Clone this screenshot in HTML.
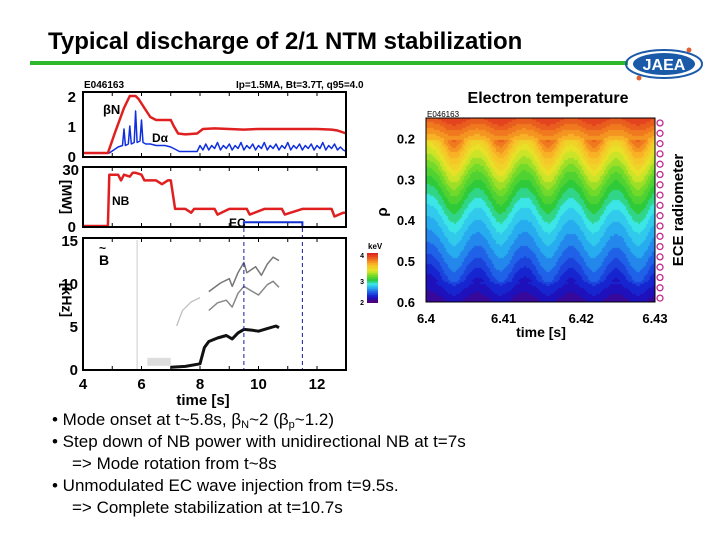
<!DOCTYPE html>
<html><head><meta charset="utf-8"><style>
body{margin:0;background:#fff;width:720px;height:540px;overflow:hidden;font-family:"Liberation Sans",Arial,sans-serif;position:relative}
.t{position:absolute;white-space:nowrap}
sub{font-size:11px;line-height:0;vertical-align:-3px}
</style></head><body>
<div class="t" style="left:48px;top:28px;font-size:24px;font-weight:bold;color:#000">Typical discharge of 2/1 NTM stabilization</div>
<div style="position:absolute;left:30px;top:61px;width:598px;height:4px;background:#2db82d"></div>
<svg style="position:absolute;left:622px;top:44px" width="84" height="40">
<ellipse cx="42" cy="20" rx="38" ry="14" fill="none" stroke="#1a5aa8" stroke-width="2"/>
<ellipse cx="42" cy="20" rx="31" ry="11" fill="#1a5aa8"/>
<text x="42" y="26" text-anchor="middle" font-family="Liberation Sans" font-weight="bold" font-size="16" fill="#fff">JAEA</text>
<circle cx="67" cy="6" r="2.5" fill="#e06030"/><circle cx="17" cy="34" r="2.5" fill="#e06030"/>
</svg>
<svg id="left" width="720" height="540" style="position:absolute;left:0;top:0" font-family="Liberation Sans" font-weight="bold"></svg>
<canvas id="te" width="229" height="184" style="position:absolute;left:426px;top:118px"></canvas>
<canvas id="cb" width="11" height="50" style="position:absolute;left:367px;top:253px"></canvas>
<svg id="right" width="720" height="540" style="position:absolute;left:0;top:0" font-family="Liberation Sans" font-weight="bold"></svg>
<div style="position:absolute;left:52px;top:409px;font-size:17px;line-height:22px;color:#000">
<div>• Mode onset at t~5.8s, β<sub>N</sub>~2 (β<sub>p</sub>~1.2)</div>
<div>• Step down of NB power with unidirectional NB at t=7s</div>
<div style="padding-left:20px">=&gt; Mode rotation from t~8s</div>
<div>• Unmodulated EC wave injection from t=9.5s.</div>
<div style="padding-left:20px">=&gt; Complete stabilization at t=10.7s</div>
</div>
<script>
// ---- data ----
const betaT=[4,4.85,5.1,5.4,5.6,5.8,5.9,6.1,6.3,6.5,7.0,7.1,7.25,7.5,7.9,8.1,8.5,9,9.5,10,11,12,12.5,12.7,13];
const betaV=[0.1,0.1,0.8,1.6,2.0,2.0,1.9,1.6,1.3,1.2,1.2,1.0,0.75,0.72,0.75,0.9,0.92,0.9,0.88,0.9,0.9,0.9,0.88,0.85,0.75];
const daT=[4,4.9,5.2,5.35,5.4,5.45,5.55,5.6,5.65,5.75,5.8,5.85,5.95,6.0,6.05,6.15,6.3,6.5,6.8,7.0,7.3,7.9,8.0,8.1,8.2,8.3,8.4,8.5,8.6,8.7,8.8,8.9,9,9.1,9.2,9.3,9.4,9.5,9.6,9.7,9.8,9.9,10,10.1,10.2,10.3,10.4,10.5,10.6,10.7,10.8,10.9,11,11.1,11.2,11.3,11.4,11.5,11.6,11.7,11.8,11.9,12,12.1,12.2,12.3,12.4,12.5,12.6,12.7,12.8,12.9,13];
const daV=[0.1,0.1,0.3,0.35,0.9,0.35,0.4,1.0,0.4,0.45,1.5,0.45,0.5,1.2,0.45,0.4,0.4,0.35,0.35,0.3,0.15,0.15,0.35,0.2,0.4,0.2,0.35,0.25,0.45,0.2,0.35,0.25,0.4,0.2,0.35,0.25,0.45,0.2,0.35,0.25,0.4,0.2,0.35,0.25,0.45,0.2,0.35,0.25,0.4,0.2,0.35,0.25,0.45,0.2,0.35,0.25,0.4,0.2,0.35,0.25,0.4,0.2,0.35,0.25,0.45,0.2,0.35,0.25,0.4,0.2,0.3,0.2,0.15];
const nbT=[4,4.85,4.9,5.2,5.3,5.4,5.6,5.7,5.8,6.0,6.1,6.5,6.7,6.9,7.0,7.15,7.5,7.7,7.8,8.0,8.5,8.6,9.0,9.1,9.6,9.7,10.2,10.3,10.8,10.9,11.5,11.6,12.5,12.6,12.9,13];
const nbV=[0,0,27,27,24,27,26,28,28,27,24,24,22,24,24,9,9,7,9,9,9,6,9,9,9,6,9,9,9,6,9,9,9,5,7,7];
const f1T=[7.0,7.5,8.0,8.15,8.3,8.6,8.9,9.1,9.3,9.5,9.8,10.0,10.3,10.6,10.7];
const f1V=[0.2,0.3,0.6,2.5,3.2,3.6,3.9,3.5,4.2,4.6,4.5,4.4,4.7,5.0,4.8];
const f2T=[8.3,8.6,8.9,9.1,9.3,9.5,9.7,10.0,10.3,10.5,10.7];
const f2V=[6.8,7.7,8.0,7.2,8.8,9.6,9.2,8.6,9.8,10.2,9.5];
const f3T=[8.3,8.7,9.0,9.1,9.3,9.5,9.6,9.9,10.1,10.3,10.5,10.7];
const f3V=[9.0,10.0,10.5,9.6,11.2,12.4,11.2,11.9,10.9,12.2,13.0,12.6];
const f0T=[7.2,7.4,7.7,8.0];
const f0V=[5.0,6.8,7.8,8.3];
const ecT=[9.5,11.5];
// Te profile (keV) vs rho, and modulation
const rhoP=[0.15,0.2,0.25,0.3,0.35,0.4,0.45,0.5,0.55,0.6];
const teP=[3.9,3.6,3.3,3.05,2.85,2.68,2.55,2.42,2.25,2.08];
const modPeakTimes=[6.4035,6.4095,6.4156,6.4215,6.4272];
const modAmp=0.075;
const rhoTicks=[0.2,0.3,0.4,0.5,0.6];
const timeTicks=[6.4,6.41,6.42,6.43];

const NS='http://www.w3.org/2000/svg';
function mk(p,tag,a){const e=document.createElementNS(NS,tag);for(const k in a)e.setAttribute(k,a[k]);p.appendChild(e);return e;}
const L=document.getElementById('left');
const xs=t=>83+(t-4)*29.25;
const y1=v=>156-v*30, y2=v=>226-v*(57/30), y3=v=>369-v*(129/15);
function line(T,V,ys,col,w,name,op){const d=T.map((t,i)=>(i?'L':'M')+xs(t).toFixed(1)+','+ys(V[i]).toFixed(1)).join('');
const p=mk(L,'path',{d:d,fill:'none',stroke:col,'stroke-width':w,'stroke-linejoin':'round',opacity:op||1});
}
function frame(y0,y1_,name){const r=mk(L,'rect',{x:83,y:y0,width:263,height:y1_-y0,fill:'none',stroke:'#000','stroke-width':2});

for(let t=5;t<13;t++){mk(L,'line',{x1:xs(t),x2:xs(t),y1:y0,y2:y0+4,stroke:'#000'});mk(L,'line',{x1:xs(t),x2:xs(t),y1:y1_,y2:y1_-4,stroke:'#000'});}}
line(f0T,f0V,y3,'#bbb',1.2,'spectrogram-faint');
line(f3T,f3V,y3,'#777',1.5,'spectrogram-3rd-harmonic');
line(f2T,f2V,y3,'#888',1.5,'spectrogram-2nd-harmonic');
line(f1T,f1V,y3,'#111',3,'spectrogram-fundamental');
mk(L,'line',{x1:xs(5.85),x2:xs(5.85),y1:240,y2:369,stroke:'#ccc'});
mk(L,'rect',{x:xs(6.2),y:y3(1.3),width:xs(7)-xs(6.2),height:8,fill:'#ddd'});
ecT.forEach(t=>{const l=mk(L,'line',{x1:xs(t),x2:xs(t),y1:228,y2:369,stroke:'#1a1aa0','stroke-dasharray':'4,3'});});
line(daT,daV,y1,'#1030e0',1.5,'d-alpha-line');
line(betaT,betaV,y1,'#e02020',2.5,'beta-n-line');
line(nbT,nbV,y2,'#e02020',2.5,'nb-power-line');
const ec=mk(L,'path',{d:`M${xs(ecT[0])},226V${y2(2)}H${xs(ecT[1])}V226`,fill:'none',stroke:'#1030d0','stroke-width':2});

frame(92,157,'panel-beta-frame');frame(167,227,'panel-power-frame');frame(238,370,'panel-spectrogram-frame');
function tx(s,x,y,sz,anc,name,extra){const e=mk(L,'text',{x:x,y:y,'font-size':sz,'text-anchor':anc||'start'});e.textContent=s;if(extra)for(const k in extra)e.setAttribute(k,extra[k]);return e;}
[[2,'2'],[1,'1'],[0,'0']].forEach(([v,s])=>tx(s,76,y1(v)+6,15,'end','y1-tick-label'));
tx('30',79,y2(30)+6,15,'end','y2-tick-label');tx('0',76,y2(0)+6,15,'end','y2-tick-label');
[15,10,5,0].forEach(v=>tx(String(v),78,y3(v)+6,15,'end','y3-tick-label'));
[4,6,8,10,12].forEach(t=>tx(String(t),xs(t),389,15,'middle','x-tick-label'));
tx('time [s]',203,405,15,'middle','x-axis-title');
tx('[MW]',62,197,14,'middle','y2-axis-title',{transform:'rotate(90 62 197)'});
tx('[kHz]',62,300,14,'middle','y3-axis-title',{transform:'rotate(90 62 300)'});
tx('E046163',84,88,10,'start','shot-label');
tx('Ip=1.5MA, Bt=3.7T, q95=4.0',236,88,10,'start','params-label');
tx('βN',103,114,13,'start','beta-n-label');
tx('Dα',152,142,12,'start','d-alpha-label');
tx('NB',112,205,12,'start','nb-label');
tx('EC',229,227,12,'start','ec-label');
tx('B',99,265,14,'start','b-tilde-label');tx('~',99,252,12,'start','b-tilde-mark');

// ---- contour ----
function cmap(v){const st=[[2.0,[80,0,120]],[2.2,[20,20,200]],[2.4,[30,90,230]],[2.6,[40,180,240]],[2.75,[60,230,230]],[2.9,[40,200,60]],[3.1,[120,220,40]],[3.3,[230,230,40]],[3.55,[250,190,40]],[3.75,[240,120,30]],[4.0,[220,40,30]]];
v=Math.round(v*12)/12;if(v<=st[0][0])return st[0][1];for(let i=1;i<st.length;i++)if(v<=st[i][0]){const a=st[i-1],b=st[i],f=(v-a[0])/(b[0]-a[0]);return a[1].map((c,j)=>Math.round(c+(b[1][j]-c)*f));}return st[st.length-1][1];}
function prof(r){if(r<=rhoP[0])return teP[0];for(let i=1;i<rhoP.length;i++)if(r<=rhoP[i]){const f=(r-rhoP[i-1])/(rhoP[i]-rhoP[i-1]);return teP[i-1]+(teP[i]-teP[i-1])*f;}return teP[teP.length-1];}
const cv=document.getElementById('te').getContext('2d');
const W=229,H=184,tx0=6.4,tx1=6.4295,r0=0.15,r1=0.6;
for(let px=0;px<W;px+=2)for(let py=0;py<H;py+=2){const t=tx0+(px/W)*(tx1-tx0),r=r0+(py/H)*(r1-r0);
let m=0;modPeakTimes.forEach(pk=>{const d=(t-pk)/0.0019;m+=Math.exp(-d*d);});
const w=r<0.2?0.3:(r>0.55?0.5:1);
const c=cmap(prof(r+modAmp*(0.5-m)*w));cv.fillStyle=`rgb(${c[0]},${c[1]},${c[2]})`;cv.fillRect(px,py,2,2);}
const cb=document.getElementById('cb').getContext('2d');
for(let i=0;i<50;i++){const c=cmap(4-2*i/49);cb.fillStyle=`rgb(${c})`;cb.fillRect(0,i,11,1);}
const R=document.getElementById('right');
function rt(s,x,y,sz,anc,name,extra){const e=mk(R,'text',{x:x,y:y,'font-size':sz,'text-anchor':anc||'start'});e.textContent=s;if(extra)for(const k in extra)e.setAttribute(k,extra[k]);return e;}
const ry=r=>118+(r-r0)/(r1-r0)*184, rx=t=>426+(t-6.4)/(0.0295)*229;
const fr=mk(R,'rect',{x:426,y:118,width:229,height:184,fill:'none',stroke:'#000','stroke-width':1});
rhoTicks.forEach(r=>rt(String(r),415,ry(r)+5,13,'end','rho-tick-label'));
timeTicks.forEach(t=>rt(String(t),Math.min(rx(t),655),323,13,'middle','time-tick-label'));
rt('time [s]',541,337,14,'middle','contour-x-axis-title');
rt('ρ',387,212,15,'middle','contour-y-axis-title',{transform:'rotate(-90 387 212)'});
rt('Electron temperature',548,103,16,'middle','contour-title');
rt('E046163',427,117,8,'start','contour-shot-label',{'font-weight':'normal'});
rt('keV',368,249,8,'start','colorbar-unit');rt('4',364,258,7,'end','colorbar-tick');rt('3',364,284,7,'end','colorbar-tick');rt('2',364,305,7,'end','colorbar-tick');
rt('ECE radiometer',683,210,15,'middle','ece-radiometer-label',{transform:'rotate(-90 683 210)'});
for(let i=0;i<18;i++){const c=mk(R,'circle',{cx:660,cy:123+i*10.3,r:3,fill:'none',stroke:'#c02890','stroke-width':1.3});}
</script>
</body></html>
